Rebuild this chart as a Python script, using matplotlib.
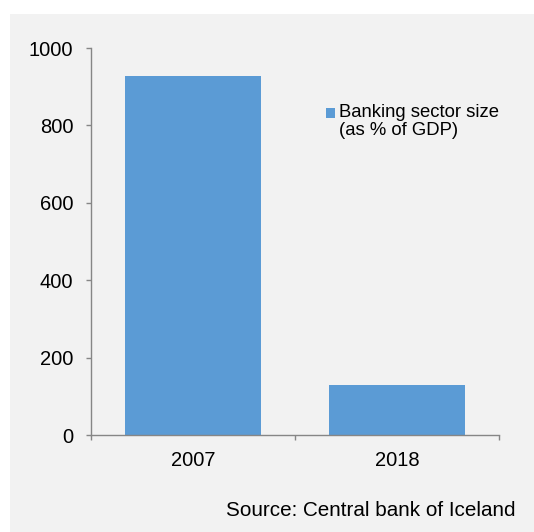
import matplotlib
matplotlib.use("Agg")
import matplotlib.pyplot as plt
from matplotlib.patches import Rectangle
from matplotlib.legend_handler import HandlerPatch
from matplotlib.container import BarContainer

categories = ["2007", "2018"]
values = [928, 130]
yticks = [0, 200, 400, 600, 800, 1000]
legend_label = "Banking sector size\n(as % of GDP)"
source = "Source: Central bank of Iceland"

plt.rcParams['font.family'] = ['Liberation Sans', 'DejaVu Sans']

W, H = 534, 532
dpi = 100
fig = plt.figure(figsize=(W / dpi, H / dpi), dpi=dpi, facecolor='white')
fig.patches.append(Rectangle((10 / W, 0), 1 - 10 / W, 1 - 14 / H, transform=fig.transFigure,
                             facecolor='#f2f2f2', edgecolor='none', zorder=-10))

x0, x1 = 91, 499
ytop, ybot = 48, 435.3
ax = fig.add_axes([x0 / W, 1 - ybot / H, (x1 - x0) / W, (ybot - ytop) / H])
ax.set_facecolor('none')

bars = ax.bar(range(len(categories)), values, width=2 / 3, color='#5b9bd5',
              label=legend_label, zorder=2)
ax.set_xlim(-0.5, len(categories) - 0.5)
ax.set_ylim(0, 1000)
ax.set_yticks(yticks)
ax.set_yticklabels([str(v) for v in yticks])
ax.set_xticks(range(len(categories)))
ax.set_xticklabels(categories)
ax.set_xticks([i - 0.5 for i in range(len(categories) + 1)], minor=True)

grey = '#868686'
for s in ['top', 'right']:
    ax.spines[s].set_visible(False)
for s in ['left', 'bottom']:
    ax.spines[s].set_color(grey)
    ax.spines[s].set_linewidth(1.0)

ax.tick_params(axis='y', direction='out', length=3.6, width=1.0, color=grey,
               labelsize=14.5, pad=9, labelcolor='black')
ax.tick_params(axis='x', which='major', length=0, labelsize=14.5, pad=11, labelcolor='black')
ax.tick_params(axis='x', which='minor', direction='out', length=3.6, width=1.0, color=grey)


def top_patch(legend, orig_handle, xdescent, ydescent, width, height, fontsize):
    return Rectangle((-xdescent, -ydescent + 6.0), width, height)


def first_child(legend_handle, orig_handle):
    legend_handle.update_from(orig_handle.patches[0])


leg = ax.legend(loc='upper left', bbox_to_anchor=((326 - x0) / (x1 - x0), (ybot - 104) / (ybot - ytop)),
                frameon=False, fontsize=13.3, handlelength=0.5, handleheight=0.5,
                handletextpad=0.22, borderaxespad=0, borderpad=0, labelspacing=0,
                handler_map={BarContainer: HandlerPatch(patch_func=top_patch,
                                                        update_func=first_child)})
for t in leg.get_texts():
    t.set_linespacing(1.08)

fig.text(515 / W, 1 - 510 / H, source, ha='right', va='center', fontsize=14.9, color='black')

fig.savefig('out.png', dpi=dpi, facecolor=fig.get_facecolor())
